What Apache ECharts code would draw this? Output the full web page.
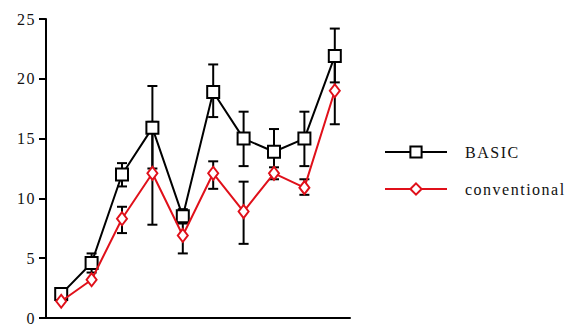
<!DOCTYPE html>
<html>
<head>
<meta charset="utf-8">
<script src="https://cdn.jsdelivr.net/npm/echarts@6/dist/echarts.min.js"></script>
<style>
  html, body { margin: 0; padding: 0; background: #fff; }
  #chart { width: 579px; height: 326px; }
  #chart svg text { letter-spacing: 1.5px; font-family: 'Liberation Serif', serif !important; }
</style>
</head>
<body>
<div id="chart"></div>
<script>
// Session indices along the x axis (no labels are printed under the ticks)
const sessions = ['1', '2', '3', '4', '5', '6', '7', '8', '9', '10'];

// Mean scores per session
const basicMeans = [2.0, 4.6, 12.0, 15.9, 8.5, 18.9, 15.0, 13.9, 15.0, 21.9];
const conventionalMeans = [1.4, 3.2, 8.3, 12.1, 6.9, 12.1, 8.9, 12.1, 10.9, 19.0];

// Error bar bounds (low, high); null where no bar is drawn
const basicLow  = [null, 3.8, 11.0, 12.5, 7.9, 16.8, 12.7, 12.0, 12.7, 19.7];
const basicHigh = [null, 5.4, 12.95, 19.4, 9.1, 21.2, 17.25, 15.8, 17.25, 24.2];
const convLow   = [null, null, 7.1, 7.8, 5.4, 10.8, 6.2, 11.6, 10.3, 16.2];
const convHigh  = [null, null, 9.3, 16.4, 8.4, 13.1, 11.4, 12.6, 11.6, 21.8];

const yTicks = [0, 5, 10, 15, 20, 25];

const RED = '#e0101a';
const FONT = 'Liberation Serif';

function errorData(low, high) {
  const out = [];
  low.forEach((lo, i) => {
    if (lo !== null && high[i] !== null) out.push([i, lo, high[i]]);
  });
  return out;
}

function renderErrorBar(params, api) {
  const x = api.value(0);
  const lo = api.coord([x, api.value(1)]);
  const hi = api.coord([x, api.value(2)]);
  const half = 5;
  const style = { stroke: '#000', lineWidth: 2, fill: null };
  return {
    type: 'group',
    children: [
      { type: 'line', shape: { x1: lo[0], y1: lo[1], x2: hi[0], y2: hi[1] }, style },
      { type: 'line', shape: { x1: hi[0] - half, y1: hi[1], x2: hi[0] + half, y2: hi[1] }, style },
      { type: 'line', shape: { x1: lo[0] - half, y1: lo[1], x2: lo[0] + half, y2: lo[1] }, style }
    ]
  };
}

const chart = echarts.init(document.getElementById('chart'), null, { renderer: 'svg' });

chart.setOption({
  animation: false,
  backgroundColor: '#fff',
  textStyle: { fontFamily: FONT },
  grid: { left: 46, top: 19, width: 304, height: 301 },
  legend: {
    left: 379,
    top: 139,
    orient: 'vertical',
    itemWidth: 62,
    itemHeight: 14,
    itemGap: 21,
    data: ['BASIC', 'conventional'],
    textStyle: { fontFamily: FONT, fontSize: 16, color: '#111', padding: [0, 0, 0, 13] }
  },
  xAxis: {
    type: 'category',
    data: sessions,
    boundaryGap: true,
    axisLine: { lineStyle: { color: '#000', width: 2 } },
    axisTick: { alignWithLabel: true, length: 7, lineStyle: { color: '#000', width: 2 } },
    axisLabel: { show: false },
    splitLine: { show: false }
  },
  yAxis: {
    type: 'value',
    min: yTicks[0],
    max: yTicks[yTicks.length - 1],
    interval: yTicks[1] - yTicks[0],
    axisLine: { show: true, lineStyle: { color: '#000', width: 2 } },
    axisTick: { show: true, length: 7, lineStyle: { color: '#000', width: 2 } },
    axisLabel: { fontFamily: FONT, fontSize: 16, color: '#111', margin: 10 },
    splitLine: { show: false }
  },
  series: [
    {
      type: 'custom',
      name: 'basicErr',
      renderItem: renderErrorBar,
      data: errorData(basicLow, basicHigh),
      encode: { x: 0, y: [1, 2] },
      z: 1,
      silent: true
    },
    {
      type: 'custom',
      name: 'convErr',
      renderItem: renderErrorBar,
      data: errorData(convLow, convHigh),
      encode: { x: 0, y: [1, 2] },
      z: 1,
      silent: true
    },
    {
      type: 'line',
      name: 'BASIC',
      data: basicMeans,
      symbol: 'rect',
      symbolSize: 12,
      showAllSymbol: true,
      lineStyle: { color: '#000', width: 2 },
      itemStyle: { color: '#fff', borderColor: '#000', borderWidth: 2 },
      z: 3
    },
    {
      type: 'line',
      name: 'conventional',
      data: conventionalMeans,
      symbol: 'diamond',
      symbolSize: [10, 13],
      showAllSymbol: true,
      lineStyle: { color: RED, width: 2 },
      itemStyle: { color: '#fff', borderColor: RED, borderWidth: 2 },
      z: 4
    }
  ]
});
</script>
</body>
</html>
